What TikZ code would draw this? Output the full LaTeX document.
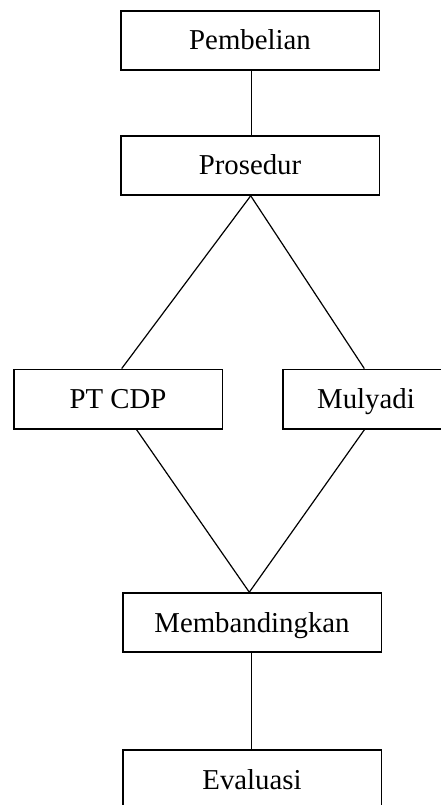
\documentclass[tikz,border=0pt]{standalone}
\usepackage{fontspec}
\setmainfont{Liberation Serif}
\begin{document}
\begin{tikzpicture}[x=1pt,y=-1pt,
  box/.style={draw=black, line width=1.6pt, rectangle, inner sep=0pt,
    minimum height=59pt, text height=19pt, text depth=0pt,
    font=\fontsize{28.8}{34}\selectfont},
  link/.style={draw=black, line width=1.2pt}]
\useasboundingbox (0,0) rectangle (441,805);
\clip (0,0) rectangle (441,805);
\fill[white] (0,0) rectangle (441,805);
\node[box, minimum width=258.6pt] (pemb) at (250,40.5) {Pembelian};
\node[box, minimum width=258.6pt] (pros) at (250,165.5) {Prosedur};
\node[box, minimum width=208.6pt, minimum height=59.7pt] (cdp) at (118,399.2) {PT CDP};
\node[box, minimum width=166.6pt, minimum height=59.7pt] (mul) at (366,399.2) {Mulyadi};
\node[box, minimum width=258.6pt] (memb) at (252,622.5) {Membandingkan};
\node[box, minimum width=258.6pt] (eval) at (252,779.5) {Evaluasi};
\draw[link] ([xshift=1.7pt]pemb.south) -- ([xshift=1.7pt]pros.north);
\draw[link] ([xshift=0.7pt]pros.south) -- ([xshift=3.7pt]cdp.north);
\draw[link] ([xshift=0.7pt]pros.south) -- ([xshift=-1.7pt]mul.north);
\draw[link] ([xshift=18.7pt]cdp.south) -- ([xshift=-2.7pt]memb.north);
\draw[link] ([xshift=-1.7pt]mul.south) -- ([xshift=-2.7pt]memb.north);
\draw[link] ([xshift=-0.3pt]memb.south) -- ([xshift=-0.3pt]eval.north);
\end{tikzpicture}
\end{document}
